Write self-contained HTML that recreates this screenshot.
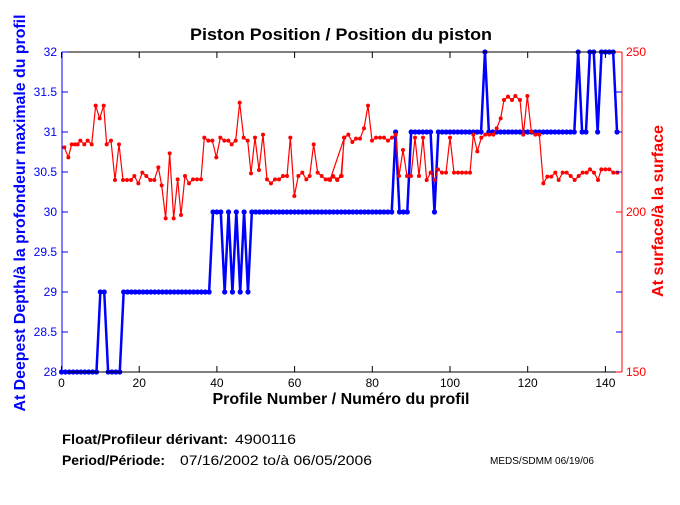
<!DOCTYPE html>
<html><head><meta charset="utf-8"><style>
body{margin:0;background:#fff;width:680px;height:500px;overflow:hidden}
svg{font-family:"Liberation Sans",Arial,sans-serif}
</style></head><body>
<svg id="s" width="680" height="500" xmlns="http://www.w3.org/2000/svg">
<rect width="680" height="500" fill="#fff"/>
<text x="341" y="40" text-anchor="middle" font-size="17" font-weight="bold" textLength="302" lengthAdjust="spacingAndGlyphs">Piston Position / Position du piston</text>
<g id="plot"></g>
<line x1="62" y1="52" x2="622" y2="52" stroke="#000"/>
<line x1="62" y1="372" x2="622" y2="372" stroke="#000"/>
<line x1="62" y1="52" x2="62" y2="372" stroke="#00f"/>
<line x1="622" y1="52" x2="622" y2="372" stroke="#f00"/>
<g id="ticks" font-size="12"></g>
<text x="341" y="404" text-anchor="middle" font-size="16" font-weight="bold" textLength="257" lengthAdjust="spacingAndGlyphs">Profile Number / Numéro du profil</text>
<text transform="translate(25,213) rotate(-90)" text-anchor="middle" font-size="16" font-weight="bold" fill="#00f" textLength="397" lengthAdjust="spacingAndGlyphs">At Deepest Depth/à la profondeur maximale du profil</text>
<text transform="translate(663,211) rotate(-90)" text-anchor="middle" font-size="16" font-weight="bold" fill="#f00" textLength="172" lengthAdjust="spacingAndGlyphs">At surface/à la surface</text>
<text x="62" y="444" font-size="14" font-weight="bold" textLength="166" lengthAdjust="spacingAndGlyphs">Float/Profileur dérivant:</text>
<text x="235" y="444" font-size="14" textLength="61" lengthAdjust="spacingAndGlyphs">4900116</text>
<text x="62" y="465" font-size="14" font-weight="bold" textLength="103" lengthAdjust="spacingAndGlyphs">Period/Période:</text>
<text x="180" y="465" font-size="14" textLength="192" lengthAdjust="spacingAndGlyphs">07/16/2002  to/à  06/05/2006</text>
<text x="490" y="464" font-size="10" textLength="104" lengthAdjust="spacingAndGlyphs">MEDS/SDMM  06/19/06</text>
</svg>
<script>
var NS="http://www.w3.org/2000/svg";
function el(t,a,p){var e=document.createElementNS(NS,t);for(var k in a)e.setAttribute(k,a[k]);(p||document.getElementById('plot')).appendChild(e);return e;}
var tk=document.getElementById('ticks');
for(var i=0;i<=140;i+=20){var x=61.5+3.885*i;
el('line',{x1:x,y1:372,x2:x,y2:366,stroke:'#000'},tk);el('line',{x1:x,y1:52,x2:x,y2:58,stroke:'#000'},tk);
var t=el('text',{x:x,y:387,'text-anchor':'middle'},tk);t.textContent=i;}
var ll=['28','28.5','29','29.5','30','30.5','31','31.5','32'];
for(var j=0;j<9;j++){var y=372-40*j;
el('line',{x1:62,y1:y,x2:68,y2:y,stroke:'#00f'},tk);
var t=el('text',{x:57,y:y+4,'text-anchor':'end',fill:'#00f'},tk);t.textContent=ll[j];
el('line',{x1:622,y1:y,x2:616,y2:y,stroke:j%4==0?'#f00':'#00f'},tk);}
var rl={0:'150',4:'200',8:'250'};
for(var k in rl){var y=372-40*k;var t=el('text',{x:626,y:y+4,fill:'#f00'},tk);t.textContent=rl[k];}
var b=[];for(var i=0;i<144;i++){var v;
if(i<=9)v=28;else if(i<=11)v=29;else if(i<=15)v=28;else if(i<=38)v=29;else if(i<=41)v=30;
else if(i<=48)v=(i%2==0)?29:30;else if(i<=85)v=30;else if(i==86)v=31;else if(i<=89)v=30;
else if(i<=95)v=31;else if(i==96)v=30;else if(i==109)v=32;else if(i<=132)v=31;
else if(i==133)v=32;else if(i<=135)v=31;else if(i<=137)v=32;else if(i==138)v=31;else if(i<=142)v=32;else v=31;
b.push([61.5+3.885*i,372-80*(v-28)]);}
el('polyline',{points:b.map(p=>p.join(',')).join(' '),fill:'none',stroke:'#00f','stroke-width':2.5});
b.forEach(p=>el('circle',{cx:p[0],cy:p[1],r:2.6,fill:'#00f'}));
var r1=[[28,322],[40,352],[50,313],[60,313],[68,313],[76,302],[88,313],[98,302],[110,313],[122,197],[134,235],[146,197],[155,313],[168,302],[180,420],[192,313],[204,420],[216,420],[228,420],[238,408],[250,430],[262,398],[274,408],[286,420],[298,420],[310,382],[320,436],[332,535],[344,340],[356,535],[368,418],[378,525],[390,408],[402,430],[414,418],[426,418],[438,418],[448,293],[460,302],[472,302],[484,352],[496,293],[508,302],[520,302],[530,313],[542,302],[554,188],[566,293],[578,302],[588,400],[600,293],[612,390],[624,284],[636,418],[648,430],[660,418],[672,418],[684,408],[696,408],[706,293],[718,468],[730,408],[742,398],[754,418],[764,408],[776,313],[788,398],[800,408],[812,418],[822,418],[834,408],[846,418],[858,408],[868,293]];
var r2=[[0,420],[10,410],[22,420],[35,408],[42,293],[55,284],[67,306],[78,296],[90,296],[102,265],[114,197],[126,302],[138,293],[150,293],[162,293],[174,302],[186,293],[197,284],[207,408],[219,330],[231,408],[243,408],[255,293],[267,408],[279,293],[290,420],[302,398],[314,420],[324,388],[336,398],[348,398],[360,293],[372,398],[384,398],[396,398],[408,398],[420,398],[430,284],[442,334],[454,293],[466,284],[478,284],[490,284],[500,265],[512,235],[522,180],[534,170],[546,180],[556,168],[570,180],[580,284],[592,168],[604,275],[616,284],[628,284],[640,430],[652,410],[664,410],[676,398],[686,420],[698,398],[710,398],[722,408],[734,420],[746,408],[758,398],[770,398],[780,388],[792,398],[804,420],[814,388],[826,388],[838,388],[850,398],[862,398]];
var r=r1.map(p=>[55+p[0]/3,40+p[1]/3]).concat(r2.map(p=>[330+p[0]/3,40+p[1]/3]));
el('polyline',{points:r.map(p=>p.join(',')).join(' '),fill:'none',stroke:'#f00','stroke-width':1.2});
r.forEach(p=>el('circle',{cx:p[0],cy:p[1],r:2,fill:'#f00'}));
</script>
</body></html>
